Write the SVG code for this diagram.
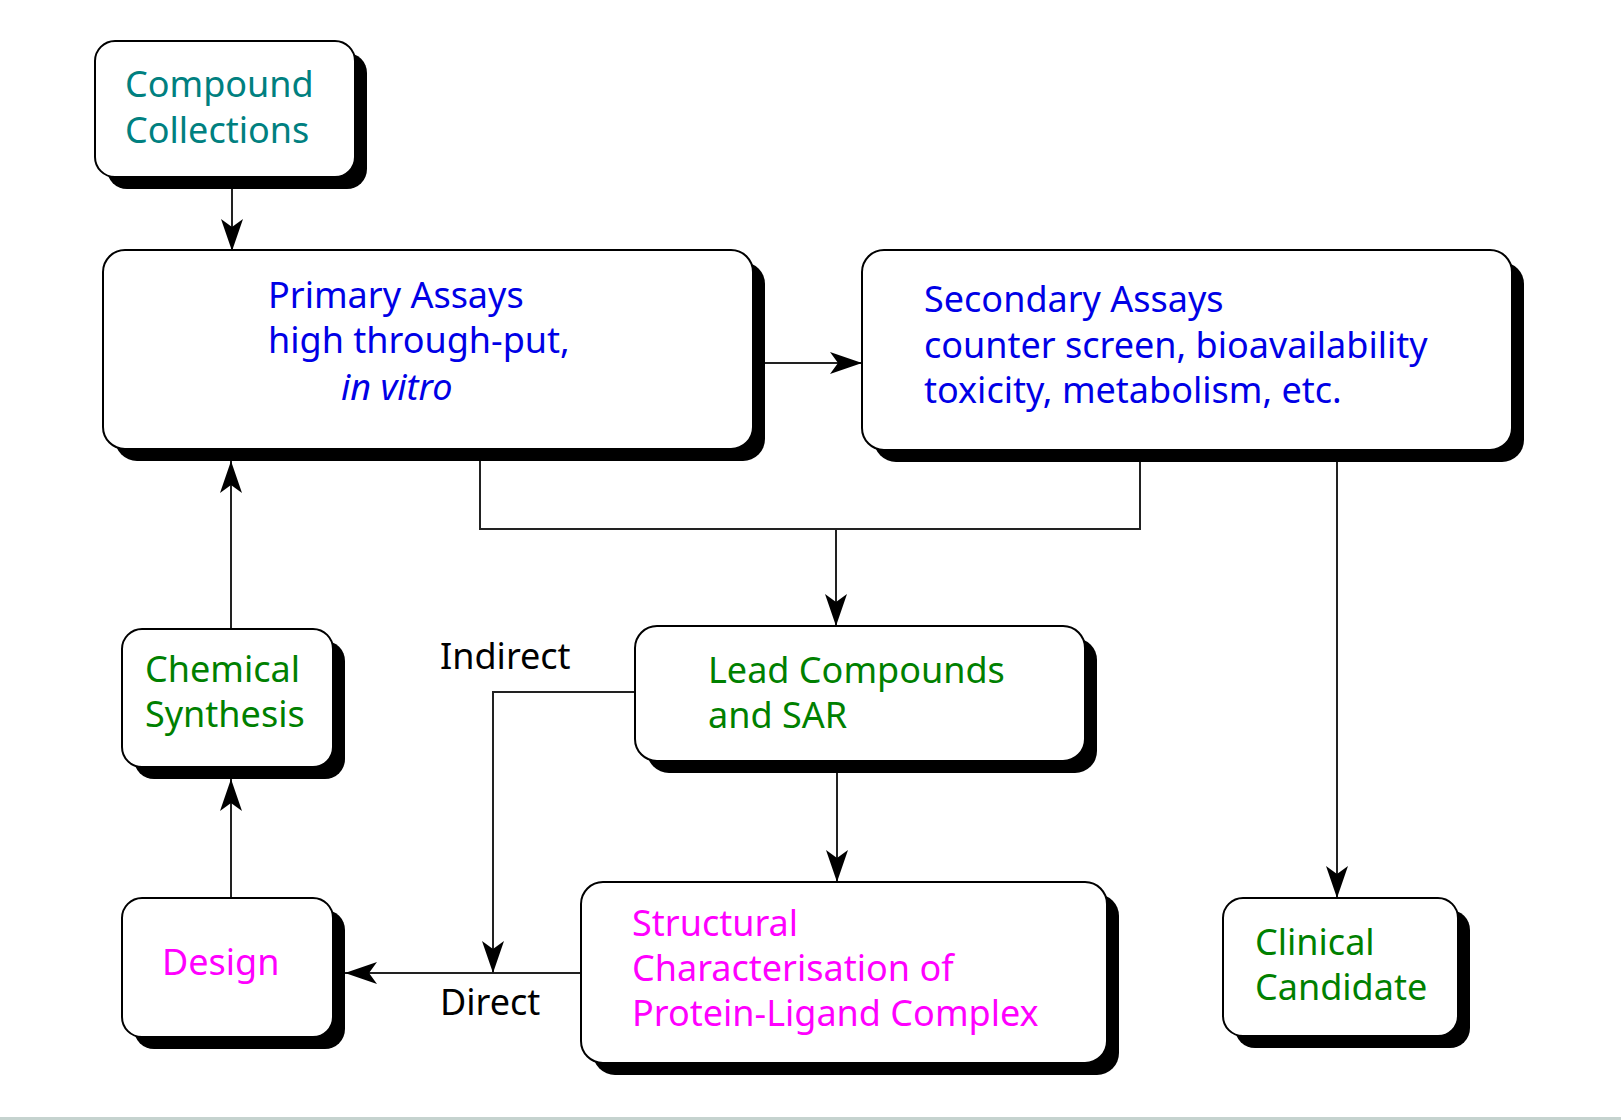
<svg xmlns="http://www.w3.org/2000/svg" width="1621" height="1120" viewBox="0 0 1621 1120">
<style>
.sh{fill:#000}
.bx{fill:#fff;stroke:#000;stroke-width:2}
.t{font-family:"Noto Sans","Open Sans","DejaVu Sans",sans-serif;font-size:36px}
.teal{fill:#008080}.blue{fill:#0000e6}.green{fill:#008000}.mag{fill:#ff00ff}.blk{fill:#000}
.ln{fill:none;stroke:#222;stroke-width:2}
</style>
<defs>
<marker id="ah" markerUnits="userSpaceOnUse" markerWidth="34" markerHeight="22" refX="32" refY="11" orient="auto">
<path d="M0,0 L32,11 L0,22 L8,11 z" fill="#000"/>
</marker>
</defs>
<rect width="1621" height="1120" fill="#fff"/>
<rect x="0" y="1117" width="1621" height="3" fill="#c5d3cf"/>
<g id="connectors">
<line class="ln" x1="232" y1="189" x2="232" y2="251" marker-end="url(#ah)"/>
<line class="ln" x1="765" y1="363" x2="862" y2="363" marker-end="url(#ah)"/>
<polyline class="ln" points="480,461 480,529 1140,529 1140,462"/>
<line class="ln" x1="836" y1="529" x2="836" y2="626" marker-end="url(#ah)"/>
<line class="ln" x1="1337" y1="462" x2="1337" y2="898" marker-end="url(#ah)"/>
<line class="ln" x1="231" y1="629" x2="231" y2="461" marker-end="url(#ah)"/>
<line class="ln" x1="231" y1="898" x2="231" y2="779" marker-end="url(#ah)"/>
<line class="ln" x1="837" y1="773" x2="837" y2="882" marker-end="url(#ah)"/>
<line class="ln" x1="581" y1="973" x2="345" y2="973" marker-end="url(#ah)"/>
<polyline class="ln" points="635,692 493,692 493,973" marker-end="url(#ah)"/>
<text class="t blk" x="440" y="669">Indirect</text>
<text class="t blk" x="440" y="1015">Direct</text>
</g>
<g id="compound">
<rect class="sh" x="107" y="53" width="260" height="136" rx="20"/>
<rect class="bx" x="95" y="41" width="260" height="136" rx="20"/>
<text class="t teal" x="125" y="97">Compound</text>
<text class="t teal" x="125" y="143">Collections</text>
</g>
<g id="primary">
<rect class="sh" x="115" y="262" width="650" height="199" rx="22"/>
<rect class="bx" x="103" y="250" width="650" height="199" rx="22"/>
<text class="t blue" x="268" y="308">Primary Assays</text>
<text class="t blue" x="268" y="353">high through-put,</text>
<text class="t blue" x="341" y="400" font-style="italic">in vitro</text>
</g>
<g id="secondary">
<rect class="sh" x="874" y="262" width="650" height="200" rx="22"/>
<rect class="bx" x="862" y="250" width="650" height="200" rx="22"/>
<text class="t blue" x="924" y="312">Secondary Assays</text>
<text class="t blue" x="924" y="358">counter screen, bioavailability</text>
<text class="t blue" x="924" y="403">toxicity, metabolism, etc.</text>
</g>
<g id="chemical">
<rect class="sh" x="134" y="641" width="211" height="138" rx="20"/>
<rect class="bx" x="122" y="629" width="211" height="138" rx="20"/>
<text class="t green" x="145" y="682">Chemical</text>
<text class="t green" x="145" y="727">Synthesis</text>
</g>
<g id="lead">
<rect class="sh" x="647" y="638" width="450" height="135" rx="22"/>
<rect class="bx" x="635" y="626" width="450" height="135" rx="22"/>
<text class="t green" x="708" y="683">Lead Compounds</text>
<text class="t green" x="708" y="728">and SAR</text>
</g>
<g id="design">
<rect class="sh" x="134" y="910" width="211" height="139" rx="20"/>
<rect class="bx" x="122" y="898" width="211" height="139" rx="20"/>
<text class="t mag" x="162" y="975">Design</text>
</g>
<g id="structural">
<rect class="sh" x="593" y="894" width="526" height="181" rx="22"/>
<rect class="bx" x="581" y="882" width="526" height="181" rx="22"/>
<text class="t mag" x="632" y="936">Structural</text>
<text class="t mag" x="632" y="981">Characterisation of</text>
<text class="t mag" x="632" y="1026">Protein-Ligand Complex</text>
</g>
<g id="clinical">
<rect class="sh" x="1235" y="910" width="235" height="138" rx="20"/>
<rect class="bx" x="1223" y="898" width="235" height="138" rx="20"/>
<text class="t green" x="1255" y="955">Clinical</text>
<text class="t green" x="1255" y="1000">Candidate</text>
</g>
</svg>
